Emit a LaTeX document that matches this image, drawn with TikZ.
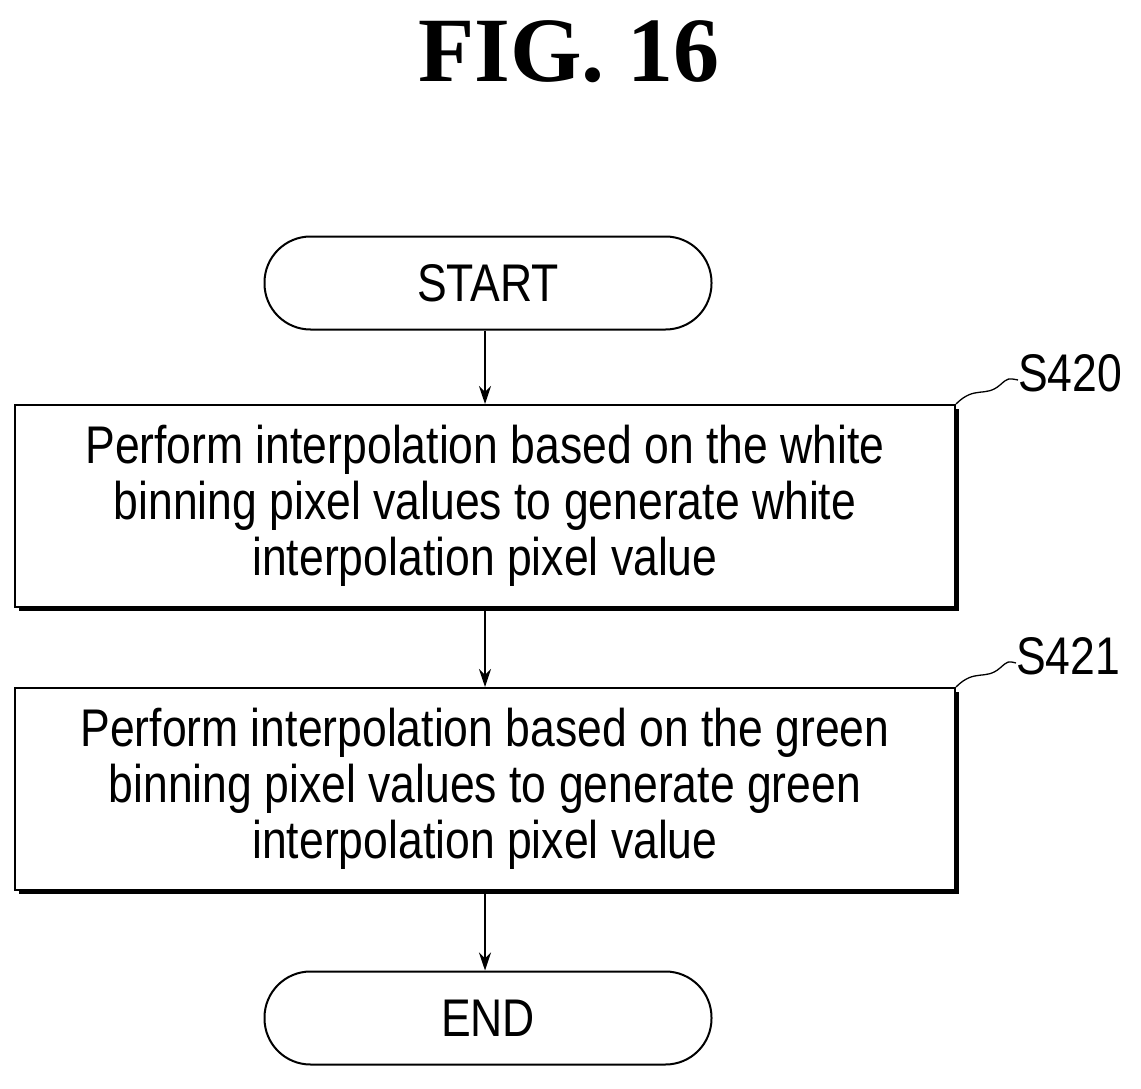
\documentclass[tikz,border=0pt]{standalone}
\usepackage{fontspec}
\setmainfont{Liberation Sans}[FakeStretch=0.84]
\newfontfamily\titlefont{Liberation Serif}
\usetikzlibrary{arrows.meta}
\begin{document}
\begin{tikzpicture}[x=1pt,y=-1pt,
  txt/.style={font=\fontsize{53}{56}\selectfont,align=center},
  pill/.style={draw,line width=2pt,rounded corners=46pt,minimum width=447pt,minimum height=93pt,txt},
  box/.style={draw,line width=2pt,fill=white,minimum width=940pt,minimum height=202pt,txt},
  shadowed/.style={preaction={fill=black,transform canvas={shift={(4pt,-4pt)}}}},
  arr/.style={line width=1.6pt,-{Stealth[length=18pt,width=12pt]}},
  lbl/.style={font=\fontsize{53}{56}\selectfont}]
\useasboundingbox (0,0) rectangle (1141,1089);
\node[font=\titlefont\bfseries\fontsize{92}{96}\selectfont] (title) at (569,52) {FIG. 16};
\node[pill] (start) at (488,283) {START};
\node[box,shadowed] (b1) at (485,506) {Perform interpolation based on the white\\binning pixel values to generate white\\interpolation pixel value};
\node[box,shadowed] (b2) at (485,789) {Perform interpolation based on the green\\binning pixel values to generate green\\interpolation pixel value};
\node[pill] (end) at (488,1018) {END};
\draw[arr] (start.south -| b1.north) -- (b1.north);
\draw[arr] (b1.south) -- (b2.north);
\draw[arr] (b2.south) -- (end.north -| b2.south);
\node[lbl] (l1) at (1070,373) {S420};
\node[lbl] (l2) at (1068,656) {S421};
\draw[line width=1.3pt] (b1.north east) .. controls (975,385) and (985,398) .. (1000,385) .. controls (1008,378) .. (1018,380);
\draw[line width=1.3pt] (b2.north east) .. controls (975,668) and (985,681) .. (1000,668) .. controls (1008,661) .. (1016,663);
\end{tikzpicture}
\end{document}
